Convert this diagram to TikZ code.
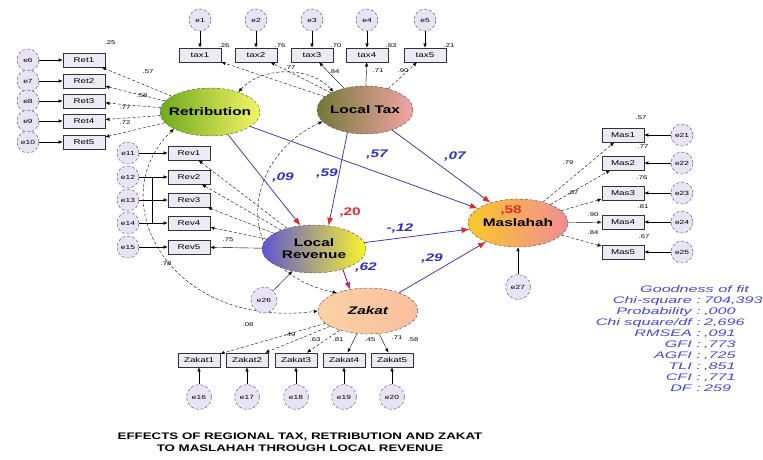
\documentclass[tikz,border=0pt]{standalone}
\usepackage{fontspec}
\setmainfont{Liberation Sans}[FakeStretch=1.4]
\newfontfamily\fitfont{Liberation Sans}[FakeStretch=1.7]
\usetikzlibrary{arrows.meta,shapes.geometric,backgrounds}
\definecolor{retL}{RGB}{110,170,30}
\definecolor{retR}{RGB}{245,245,100}
\definecolor{taxL}{RGB}{115,120,55}
\definecolor{taxR}{RGB}{242,165,165}
\definecolor{lrL}{RGB}{95,85,210}
\definecolor{lrR}{RGB}{250,245,45}
\definecolor{masL}{RGB}{250,200,40}
\definecolor{masR}{RGB}{240,140,150}
\definecolor{zakL}{RGB}{250,210,165}
\definecolor{zakR}{RGB}{250,190,160}
\definecolor{errL}{RGB}{232,228,245}
\definecolor{indL}{RGB}{236,234,244}
\definecolor{pathblue}{RGB}{75,60,165}
\definecolor{tipred}{RGB}{225,40,45}
\definecolor{coefblue}{RGB}{45,45,200}
\definecolor{fitblue}{RGB}{70,70,215}
\tikzset{
  latent/.style={ellipse,draw=black!70,densely dashed,minimum width=100pt,minimum height=48pt,inner sep=0pt,inner xsep=-10pt,align=center,font=\bfseries\fontsize{11}{12}\selectfont},
  ind/.style={rectangle,draw=black!80,thick,fill=indL,minimum width=42pt,minimum height=14pt,inner sep=1pt,font=\fontsize{7}{7}\selectfont},
  errc/.style={circle,draw=black!70,densely dashed,fill=errL,minimum size=22pt,inner sep=0pt,font=\fontsize{6}{6}\selectfont},
  eload/.style={-{Latex[length=4pt,width=3.5pt]}},
  load/.style={eload,densely dashed},
  causal/.style={pathblue,thick,-{Latex[length=8pt,width=6pt,color=tipred]}},
  cov/.style={{Latex[length=4pt,width=3.5pt]}-{Latex[length=4pt,width=3.5pt]},densely dashed},
  coef/.style={font=\bfseries\itshape\fontsize{11}{11}\selectfont,text=coefblue,inner sep=0pt},
  rsq/.style={font=\bfseries\fontsize{11}{11}\selectfont,text=tipred,inner sep=0pt},
  sm/.style={font=\fontsize{5.5}{5.5}\selectfont,inner sep=0pt},
  fit/.style={font=\fitfont\itshape\fontsize{9.5}{9.5}\selectfont,text=fitblue,inner sep=0pt},
  ttl/.style={font=\bfseries\fontsize{9.5}{12}\selectfont,align=center,inner sep=0pt}
}
\begin{document}
\begin{tikzpicture}[x=1pt,y=-1pt]
\useasboundingbox (0,0) rectangle (763,459);
\node[latent,left color=retL,right color=retR] (ret) at (210,112) {Retribution};
\node[latent,left color=taxL,right color=taxR,minimum width=96pt] (tax) at (365,110) {Local Tax};
\node[latent,left color=lrL,right color=lrR,minimum width=104pt] (lrev) at (314,249) {Local\\Revenue};
\node[latent,left color=masL,right color=masR] (masl) at (518,223) {Maslahah};
\node[latent,left color=zakL,right color=zakR,minimum height=46pt] (zak) at (368,311) {\itshape Zakat};

\foreach \i/\x in {1/200,2/256,3/312,4/367,5/425}{
  \node[ind] (tax\i) at (\x,55) {tax\i};
  \node[errc] (e\i) at (\x,20) {e\i};
  \draw[eload] (e\i) -- (tax\i);}
\foreach \i/\n/\y in {1/6/60,2/7/81,3/8/101,4/9/121,5/10/142}{
  \node[ind] (ret\i) at (84,\y) {Ret\i};
  \node[errc] (e\n) at (28,\y) {e\n};
  \draw[eload] (e\n) -- (ret\i);}
\foreach \i/\n/\y in {1/11/153,2/12/177,3/13/200,4/14/223,5/15/247}{
  \node[ind] (rev\i) at (189,\y) {Rev\i};
  \node[errc] (e\n) at (128,\y) {e\n};
  \draw[eload] (e\n) -- (rev\i);}
\foreach \i/\n/\y in {1/21/135,2/22/163,3/23/193,4/24/222,5/25/252}{
  \node[ind] (mas\i) at (623,\y) {Mas\i};
  \node[errc] (e\n) at (682,\y) {e\n};
  \draw[eload] (e\n) -- (mas\i);}
\foreach \i/\n/\x in {1/16/199,2/17/247,3/18/296,4/19/344,5/20/392}{
  \node[ind] (zak\i) at (\x,360) {Zakat\i};
  \node[errc,minimum size=25pt] (e\n) at (\x,397) {e\n};
  \draw[eload] (e\n) -- (zak\i);}
\node[errc,minimum size=26pt] (e26) at (264,300) {e26};
\node[errc,minimum size=25pt] (e27) at (518,287) {e27};
\draw[eload] (e26) -- (lrev);
\draw[eload] (e27) -- (masl);
\draw ([xshift=13pt]e12.east) -- ([xshift=13pt]e14.east);

\foreach \i/\s in {1/load,2/load,3/eload,4/eload,5/load} \draw[\s] (tax) -- (tax\i);
\foreach \i in {1,...,5} \draw[load] (ret) -- (ret\i);
\foreach \i/\s in {1/load,2/load,3/load,4/load,5/eload} \draw[\s] (lrev) -- (rev\i);
\foreach \i/\s in {1/load,2/load,3/load,4/eload,5/load} \draw[\s] (masl) -- (mas\i);
\foreach \i/\s in {1/load,2/load,3/load,4/eload,5/eload} \draw[\s] (zak) -- (zak\i);

\begin{scope}[on background layer]
\draw[cov] (ret.35) .. controls (262,66) and (310,66) .. (tax.150);
\draw[cov] (ret.205) .. controls (100,200) and (170,330) .. (zak.180);
\draw[cov] (tax.195) .. controls (240,160) and (230,270) .. (zak.150);
\end{scope}

\draw[causal] (ret) -- (lrev.120);
\draw[causal] (tax.232) -- (lrev.58);
\draw[causal] (ret) -- (masl);
\draw[causal] (tax) -- (masl);
\draw[causal] (lrev) -- (masl);
\draw[causal] (zak) -- (masl);
\draw[violet,thick,-{Latex[length=7pt,width=6pt,color=magenta!80!black]}] (lrev.-35) -- (zak.130);

\node[coef] (c1) at (283,178) {,09};
\node[coef] (c2) at (327,174) {,59};
\node[coef] (c3) at (377,155) {,57};
\node[coef] (c4) at (455,157) {,07};
\node[coef] (c5) at (400,229) {-,12};
\node[coef] (c6) at (432,259) {,29};
\node[coef] (c7) at (366,268) {,62};
\node[rsq] (r1) at (350,213) {,20};
\node[rsq] (r2) at (511,211) {,58};

\foreach \x/\y/\t [count=\k] in {224/46/.26,280/46/.76,336/46/.70,391/46/.83,449/46/.21,
  290/68/.77,334/72/.84,378/71/.71,403/71/.90,
  110/43/.25,148/72/.57,142/96/.58,125/108/.77,125/123/.72,
  228/240/.75,166/264/.78,
  248/325/.08,290/335/.49,315/340/.63,338/340/.81,370/340/.45,397/338/.71,413/340/.58,
  641/118/.57,643/147/.77,642/178/.76,643/207/.81,644/237/.67,
  568/163/.79,573/193/.87,593/215/.90,593/233/.84}
  \node[sm] (n\k) at (\x,\y) {\t};

\node[fit,anchor=base west] (gof) at (640,292) {Goodness of fit};
\foreach \l/\v/\y [count=\k] in {{Chi-square}/{704,393}/303,{Probability}/{,000}/314,{Chi square/df}/{2,696}/325,
  {RMSEA}/{,091}/336,{GFI}/{,773}/347,{AGFI}/{,725}/358,{TLI}/{,851}/369,{CFI}/{,771}/380,{DF}/{259}/391}{
  \node[fit,anchor=base east] (fl\k) at (701,\y) {\l\ :};
  \node[fit,anchor=base west] (fv\k) at (704,\y) {\v};}

\node[ttl] (title) at (300,442) {EFFECTS OF REGIONAL TAX, RETRIBUTION AND ZAKAT\\TO MASLAHAH THROUGH LOCAL REVENUE};
\end{tikzpicture}
\end{document}
